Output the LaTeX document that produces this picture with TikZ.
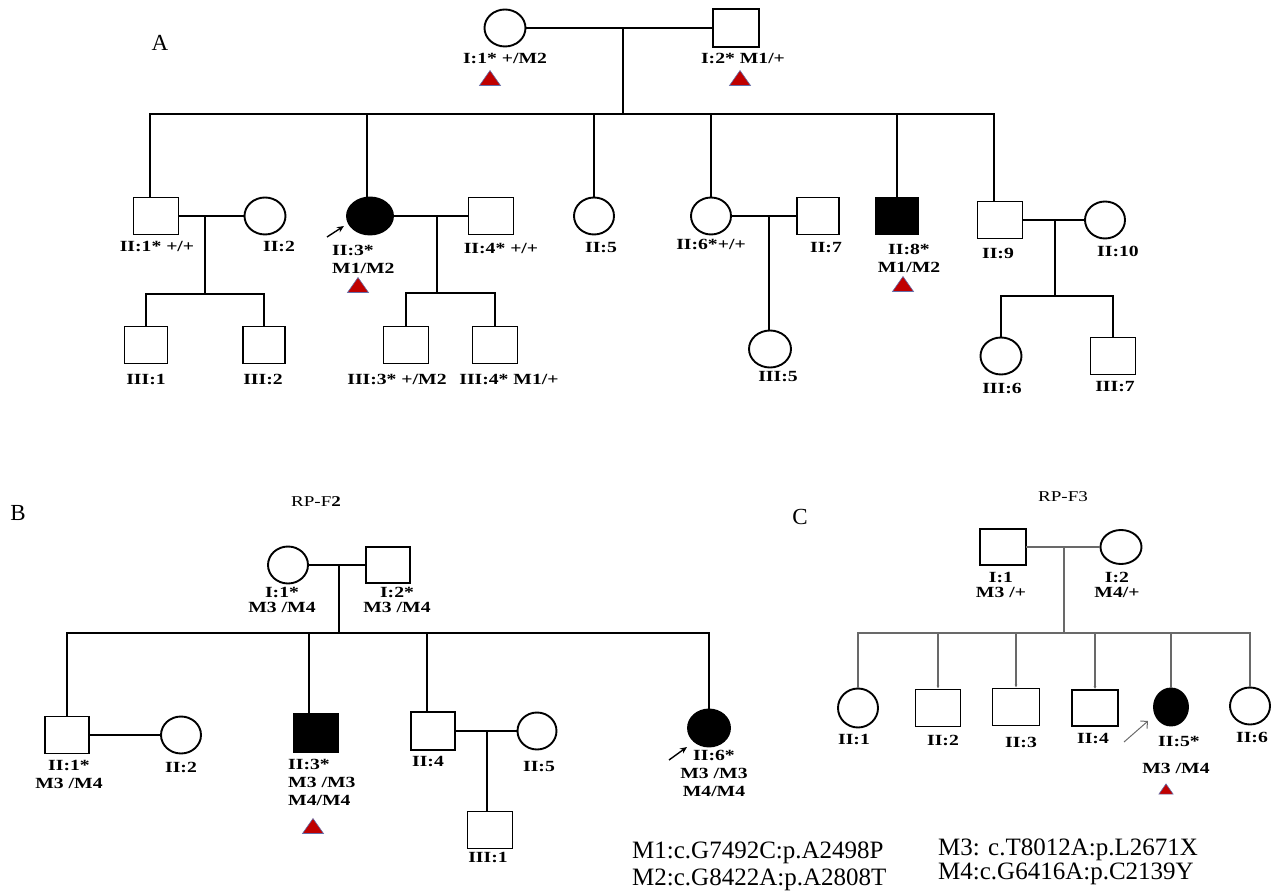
\documentclass[tikz,border=0pt]{standalone}
\usepackage{fontspec}
\setmainfont{Liberation Serif}
\newfontfamily\pedfont[FakeStretch=1.27]{Liberation Serif}
\usepackage{tikz}
\usetikzlibrary{shapes.geometric,arrows.meta}
\definecolor{tred}{RGB}{192,0,0}
\definecolor{tedge}{RGB}{100,110,170}
\definecolor{cgrey}{RGB}{105,105,105}
\tikzset{mutri/.pic={\filldraw[fill=tred, draw=tedge, line width=0.6pt] (-10.5,7.5) -- (10.5,7.5) -- (0,-7.5) -- cycle;}}

\begin{document}
\begin{tikzpicture}[x=1pt, y=-1pt,
    male/.style={rectangle, draw, line width=1.9pt, minimum width=45pt, minimum height=37pt, inner sep=0pt},
    female/.style={ellipse, draw, line width=1.9pt, minimum width=41pt, minimum height=37pt, inner sep=0pt},
    hit/.style={fill=black},
    lbl/.style={font=\pedfont\bfseries\fontsize{15.5}{18}\selectfont, inner sep=0pt, align=center},
    tight/.style={font=\pedfont\bfseries\fontsize{15.5}{15}\selectfont},
    ln/.style={line width=1.8pt, line cap=rect},
    cln/.style={line width=1.4pt, cgrey, line cap=rect},
    cdrop/.style={line width=1.4pt, cgrey, -{Latex[length=3pt,width=3pt]}},
    proband/.style={-{Stealth[length=7pt,width=6pt]}, line width=1.4pt},
    panel/.style={font=\fontsize{23}{25}\selectfont, inner sep=0pt},
    fam/.style={font=\pedfont\fontsize{15}{17}\selectfont, inner sep=0pt},
    note/.style={font=\fontsize{25}{28}\selectfont, anchor=base west, inner sep=0pt}]
    \useasboundingbox (0,0) rectangle (1275,893);

    % Family A
    \node[panel] (labA) at (160,43) {A};
    \node[female] (A-I1) at (505,28) {};
    \node[male, minimum width=46pt, minimum height=38pt] (A-I2) at (736,28) {};
    \draw[ln] (A-I1) -- (A-I2);
    \node[lbl] (A-I1t) at (505,58) {I:1* +/M2};
    \node[lbl] (A-I2t) at (743,58) {I:2* M1/+};
    \pic at (490,78) {mutri};
    \pic at (740,78) {mutri};
    \coordinate (A-m1) at (623,28);
    \coordinate (A-s1) at (623,114);
    \draw[ln] (A-m1) -- (A-s1);

    \node[male] (A-II1) at (156,216) {};
    \node[female] (A-II2) at (265,216) {};
    \node[female, hit, minimum width=46pt] (A-II3) at (370,216) {};
    \node[male] (A-II4) at (491,216) {};
    \node[female, minimum width=40pt] (A-II5) at (594,216) {};
    \node[female, minimum width=40pt] (A-II6) at (711,216) {};
    \node[male, minimum width=42pt] (A-II7) at (818,216) {};
    \node[male, hit, minimum width=42pt] (A-II8) at (897,216) {};
    \node[male] (A-II9) at (1000,220) {};
    \node[female, minimum width=40pt] (A-II10) at (1105,220) {};

    \draw[ln] ([xshift=-6pt]A-II1.north |- A-s1) -- ([xshift=-6pt]A-II9.north |- A-s1);
    \draw[ln] ([xshift=-6pt]A-II1.north) -- ([xshift=-6pt]A-II1.north |- A-s1);
    \draw[ln] ([xshift=-3pt]A-II3.north) -- ([xshift=-3pt]A-II3.north |- A-s1);
    \foreach \k in {A-II5,A-II6,A-II8}
        \draw[ln] (\k.north) -- (\k.north |- A-s1);
    \draw[ln] ([xshift=-6pt]A-II9.north) -- ([xshift=-6pt]A-II9.north |- A-s1);

    \draw[ln] (A-II1) -- (A-II2);
    \draw[ln] (A-II3) -- (A-II4);
    \draw[ln] (A-II6) -- (A-II7);
    \draw[ln] (A-II9) -- (A-II10);
    \coordinate (A-pa) at (327,237);
    \coordinate (A-pb) at (344,226);
    \draw[proband] (A-pa) -- (A-pb);

    \node[lbl] (A-II1t) at (157,246) {II:1* +/+};
    \node[lbl] (A-II2t) at (279,246) {II:2};
    \node[lbl, align=left, anchor=west] (A-II3t) at (332,259) {II:3*\\M1/M2};
    \pic at (358,285) {mutri};
    \node[lbl] (A-II4t) at (501,248) {II:4* +/+};
    \node[lbl] (A-II5t) at (601,248) {II:5};
    \node[lbl] (A-II6t) at (711,244) {II:6*+/+};
    \node[lbl] (A-II7t) at (826,248) {II:7};
    \node[lbl] (A-II8t) at (909,258) {II:8*\\M1/M2};
    \pic at (903,284) {mutri};
    \node[lbl] (A-II9t) at (998,253) {II:9};
    \node[lbl] (A-II10t) at (1118,251) {II:10};

    % Family A, third generation
    \coordinate (A-m2) at (205,216);
    \coordinate (A-s2) at (205,294);
    \draw[ln] (A-m2) -- (A-s2);
    \node[male, minimum width=43pt] (A-III1) at (146,345) {};
    \node[male, minimum width=42pt] (A-III2) at (264,345) {};
    \draw[ln] (A-III1.north |- A-s2) -- (A-III2.north |- A-s2);
    \draw[ln] (A-III1.north) -- (A-III1.north |- A-s2);
    \draw[ln] (A-III2.north) -- (A-III2.north |- A-s2);

    \coordinate (A-m3) at (437,216);
    \coordinate (A-s3) at (437,293);
    \draw[ln] (A-m3) -- (A-s3);
    \node[male] (A-III3) at (406,345) {};
    \node[male] (A-III4) at (495,345) {};
    \draw[ln] (A-III3.north |- A-s3) -- (A-III4.north |- A-s3);
    \draw[ln] (A-III3.north) -- (A-III3.north |- A-s3);
    \draw[ln] (A-III4.north) -- (A-III4.north |- A-s3);

    \coordinate (A-m4) at (769,216);
    \node[female, minimum width=42pt] (A-III5) at (770,349) {};
    \draw[ln] (A-m4) -- (A-m4 |- A-III5.north);

    \coordinate (A-m5) at (1055,220);
    \coordinate (A-s5) at (1055,296);
    \draw[ln] (A-m5) -- (A-s5);
    \node[female] (A-III6) at (1001,356) {};
    \node[male] (A-III7) at (1113,356) {};
    \draw[ln] (A-III6.north |- A-s5) -- (A-III7.north |- A-s5);
    \draw[ln] (A-III6.north) -- (A-III6.north |- A-s5);
    \draw[ln] (A-III7.north) -- (A-III7.north |- A-s5);

    \node[lbl] (A-III1t) at (146,379) {III:1};
    \node[lbl] (A-III2t) at (263,379) {III:2};
    \node[lbl] (A-III3t) at (397,379) {III:3* +/M2};
    \node[lbl] (A-III4t) at (509,379) {III:4* M1/+};
    \node[lbl] (A-III5t) at (778,377) {III:5};
    \node[lbl] (A-III6t) at (1002,388) {III:6};
    \node[lbl] (A-III7t) at (1115,387) {III:7};

    % Family B
    \node[panel] (labB) at (18,513) {B};
    \node[fam] (famB) at (316,502) {RP-F\textbf{2}};
    \node[female, minimum width=40pt] (B-I1) at (288,565) {};
    \node[male, minimum width=44pt, minimum height=36pt] (B-I2) at (388,565) {};
    \draw[ln] (B-I1) -- (B-I2);
    \node[lbl, tight] (B-I1t) at (282,600) {I:1*\\M3 /M4};
    \node[lbl, tight] (B-I2t) at (397,600) {I:2*\\M3 /M4};
    \coordinate (B-m1) at (339,565);
    \coordinate (B-s1) at (339,633);
    \draw[ln] (B-m1) -- (B-s1);

    \node[male, minimum width=44pt] (B-II1) at (67,735) {};
    \node[female, minimum width=40pt] (B-II2) at (181,735) {};
    \node[male, hit, minimum width=44pt, minimum height=38pt] (B-II3) at (316,733) {};
    \node[male, minimum width=44pt, minimum height=38pt] (B-II4) at (433,731) {};
    \node[female, minimum width=39pt] (B-II5) at (537,731) {};
    \node[female, hit, minimum width=42pt] (B-II6) at (709,728) {};
    \draw[ln] (B-II1.north |- B-s1) -| (B-II6.north);
    \draw[ln] (B-II1.north) -- (B-II1.north |- B-s1);
    \draw[ln] ([xshift=-7pt]B-II3.north) -- ([xshift=-7pt]B-II3.north |- B-s1);
    \draw[ln] ([xshift=-6pt]B-II4.north) -- ([xshift=-6pt]B-II4.north |- B-s1);
    \draw[ln] (B-II1) -- (B-II2);
    \draw[ln] (B-II4) -- (B-II5);
    \coordinate (B-m2) at (487,731);
    \node[male] (B-III1) at (490,830) {};
    \draw[ln] (B-m2) -- (B-m2 |- B-III1.north);
    \coordinate (B-pa) at (669,760);
    \coordinate (B-pb) at (687,747);
    \draw[proband] (B-pa) -- (B-pb);

    \node[lbl] (B-II1t) at (69,774) {II:1*\\M3 /M4};
    \node[lbl] (B-II2t) at (181,767) {II:2};
    \node[lbl, align=left, anchor=west] (B-II3t) at (288,782) {II:3*\\M3 /M3\\M4/M4};
    \pic at (313,826) {mutri};
    \node[lbl] (B-II4t) at (428,762) {II:4};
    \node[lbl] (B-II5t) at (539,767) {II:5};
    \node[lbl] (B-III1t) at (488,857) {III:1};
    \node[lbl] (B-II6t) at (714,773) {II:6*\\M3 /M3\\M4/M4};

    % Family C
    \node[panel] (labC) at (800,517) {C};
    \node[fam] (famC) at (1063,497) {RP-F3};
    \node[male, minimum width=46pt, minimum height=36pt] (C-I1) at (1003,547) {};
    \node[female, minimum height=34pt] (C-I2) at (1121,547) {};
    \draw[cln] (C-I1) -- (C-I2);
    \node[lbl, tight] (C-I1t) at (1001,585) {I:1\\M3 /+};
    \node[lbl, tight] (C-I2t) at (1117,585) {I:2\\M4/+};
    \coordinate (C-m1) at (1064,547);
    \coordinate (C-s1) at (1064,633);
    \draw[cln] (C-m1) -- (C-s1);

    \node[female, minimum width=40pt, minimum height=39pt] (C-II1) at (858,708) {};
    \node[male] (C-II2) at (938,708) {};
    \node[male, minimum width=47pt] (C-II3) at (1016,707) {};
    \node[male, minimum width=46pt, minimum height=36pt] (C-II4) at (1095,708) {};
    \node[female, hit, minimum width=34pt] (C-II5) at (1171,707) {};
    \node[female, minimum width=40pt] (C-II6) at (1250,706) {};
    \draw[cln] (C-II1.north |- C-s1) -- (C-II6.north |- C-s1);
    \foreach \k in {C-II1,C-II5,C-II6}
        \draw[cln] (\k.north |- C-s1) -- (\k.north);
    \foreach \k in {C-II2,C-II3,C-II4}
        \draw[cdrop] (\k.north |- C-s1) -- (\k.north);
    \coordinate (C-pa) at (1124,742);
    \coordinate (C-pb) at (1148,721);
    \draw[cgrey, line width=1pt, -{Straight Barb[length=5pt]}] (C-pa) -- (C-pb);

    \node[lbl] (C-II1t) at (854,739) {II:1};
    \node[lbl] (C-II2t) at (943,740) {II:2};
    \node[lbl] (C-II3t) at (1021,742) {II:3};
    \node[lbl] (C-II4t) at (1093,739) {II:4};
    \node[lbl] (C-II5t) at (1179,741) {II:5*};
    \node[lbl] (C-II6t) at (1252,737) {II:6};
    \node[lbl] (C-II5g) at (1176,768) {M3 /M4};
    \pic[scale=0.68] at (1166,789) {mutri};

    % Mutations
    \node[note] (mut1) at (632,858) {M1:c.G7492C:p.A2498P};
    \node[note] (mut2) at (632,885) {M2:c.G8422A:p.A2808T};
    \node[note] (mut3) at (938,855) {M3: c.T8012A:p.L2671X};
    \node[note] (mut4) at (938,879) {M4:c.G6416A:p.C2139Y};
\end{tikzpicture}
\end{document}
